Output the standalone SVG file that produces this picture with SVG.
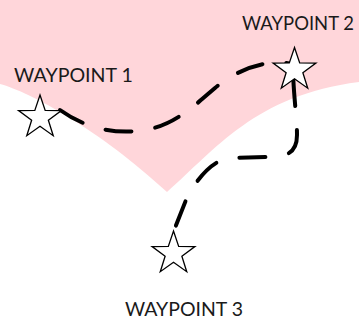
<svg xmlns="http://www.w3.org/2000/svg" xmlns:xlink="http://www.w3.org/1999/xlink" width="359" height="320" viewBox="0 0 359 320">
  <style>
    .zone { fill: #ffd6da; stroke: none; }
    .route { fill: none; stroke: #000; stroke-width: 4; stroke-linecap: round; stroke-dasharray: 26 24; }
    .star { fill: #fff; stroke: #000; stroke-width: 1.3; stroke-linejoin: miter; }
    .label { font-family: Lato, "Liberation Sans", sans-serif; font-size: 19px; fill: #1a1a1a; }
  </style>
  <defs>
    <!-- five-point star centred on the origin -->
    <path id="star" class="star" d="M0,-22.5 L5.17,-7.12 L21.4,-6.95 L8.37,2.72 L13.23,18.2 L0,8.8 L-13.23,18.2 L-8.37,2.72 L-21.4,-6.95 L-5.17,-7.12 Z"/>
  </defs>

  <!-- shaded region along the top -->
  <path class="zone" d="M0,0 H359 V82 C255,95 215,150 167,192 C100,130 30,92 0,84 Z"/>

  <g id="connectors">
    <path id="route-1-2" class="route" d="M60,110 C85,128 115,135 145,130 C175,125 195,105 215,88 S265,58 292,64"/>
    <path id="route-2-3" class="route" stroke-dashoffset="42" d="M293,72 C294,100 297,118 297,135 C297,152 288,157 268,157 L232,158 C212,158 194,183 186,200 L173,233"/>
  </g>

  <g id="waypoint-1">
    <use xlink:href="#star" href="#star" x="40" y="117.5"/>
    <text class="label" x="14" y="82" textLength="119" lengthAdjust="spacingAndGlyphs">WAYPOINT 1</text>
  </g>
  <g id="waypoint-2">
    <use xlink:href="#star" href="#star" x="294.5" y="70"/>
    <text class="label" x="242" y="30" textLength="112" lengthAdjust="spacingAndGlyphs">WAYPOINT 2</text>
  </g>
  <g id="waypoint-3">
    <use xlink:href="#star" href="#star" x="173.5" y="253.5"/>
    <text class="label" x="125" y="316" textLength="118" lengthAdjust="spacingAndGlyphs">WAYPOINT 3</text>
  </g>
</svg>
